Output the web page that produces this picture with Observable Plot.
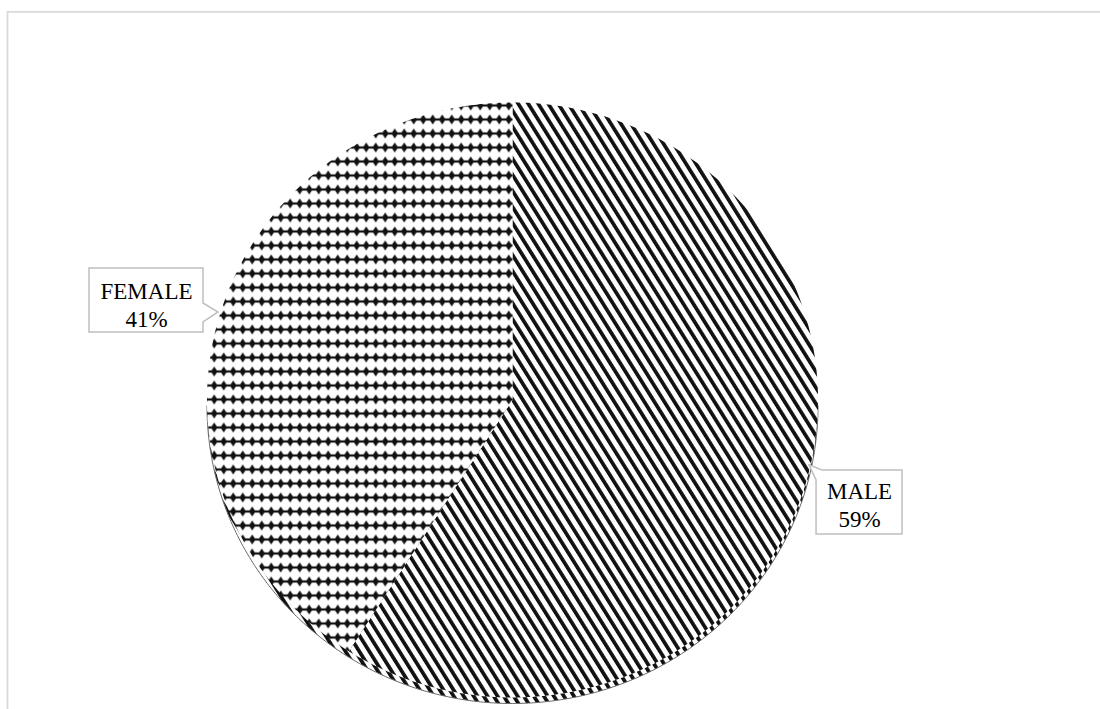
<!DOCTYPE html>
<html><head><meta charset="utf-8">
<script src="https://cdn.jsdelivr.net/npm/d3@7"></script>
<script src="https://cdn.jsdelivr.net/npm/@observablehq/plot@0.6"></script>
<style>body{margin:0;background:#fff} #chart svg{display:block}</style>
</head><body><div id="chart"></div>
<script>
// ---- data ----
const categories = ["MALE", "FEMALE"];
const shares = [59, 41];
const shareLabels = ["59%", "41%"];

// ---- layout (not data) ----
const labelPos = [
  {name: "MALE", x: 1.136, y: -0.351},
  {name: "FEMALE", x: -1.198, y: 0.3227}
];

const pie = d3.pie().sort(null).value(d => d)(shares);
const arcPts = [];
pie.forEach((p, i) => {
  const name = categories[i];
  arcPts.push({name, x: 0, y: 0});
  const n = 300;
  for (let k = 0; k <= n; k++) {
    const a = p.startAngle + (p.endAngle - p.startAngle) * k / n;
    arcPts.push({name, x: Math.sin(a), y: Math.cos(a)});
  }
  arcPts.push({name, x: 0, y: 0});
});
// lower rim used for the thin 3D side
const rimPts = [];
for (let k = 0; k <= 300; k++) {
  const a = Math.PI / 2 + Math.PI * k / 300;
  rimPts.push({x: Math.sin(a), y: Math.cos(a)});
}
const fillOf = {MALE: "url(#pMale)", FEMALE: "url(#pFemale)"};
const labels = categories.map((c, i) => ({name: c, text: c + "\n" + shareLabels[i], ...labelPos.find(l => l.name === c)}));

const defsMark = () => {
  const g = d3.create("svg:defs");
  const m = g.append("pattern").attr("id", "pMale").attr("patternUnits", "userSpaceOnUse")
    .attr("width", 8.5).attr("height", 20).attr("patternTransform", "rotate(-32)");
  m.append("rect").attr("width", 8.5).attr("height", 20).attr("fill", "#fff");
  m.append("rect").attr("x", 0).attr("width", 3.7).attr("height", 20).attr("fill", "#111");
  const f = g.append("pattern").attr("id", "pFemale").attr("patternUnits", "userSpaceOnUse")
    .attr("width", 9.5).attr("height", 14);
  f.append("rect").attr("width", 9.5).attr("height", 14).attr("fill", "#fff");
  f.append("rect").attr("x", 0).attr("y", 5.9).attr("width", 9.5).attr("height", 2.2).attr("fill", "#111");
  f.append("path").attr("d", "M4.75,2 L8.1,7 L4.75,12 L1.4,7Z").attr("fill", "#111");
  return g.node();
};

const frameMark = () => {
  const g = d3.create("svg:g");
  g.append("path").attr("d", "M7.5,709 V11.8 H1100").attr("fill", "none")
    .attr("stroke", "#d9d9d9").attr("stroke-width", 1.8);
  return g.node();
};

const calloutMark = (index, scales) => {
  const g = d3.create("svg:g").attr("fill", "#fff").attr("stroke", "#bfbfbf").attr("stroke-width", 1.5);
  const pos = Object.fromEntries(labelPos.map(l => [l.name, [scales.x(l.x), scales.y(l.y)]]));
  const [fx, fy] = pos.FEMALE;
  g.append("path").attr("d", `M${fx-57},${fy-35.5} H${fx+57} V${fy-0.5} L${fx+72},${fy+8.5} L${fx+57},${fy+18.5} V${fy+28.5} H${fx-57} Z`);
  const [mx, my] = pos.MALE;
  g.append("path").attr("d", `M${mx-37},${my-34} H${mx+43} V${my+30} H${mx-43} V${my-24} L${mx-50},${my-39} Z`);
  return g.node();
};

const chart = Plot.plot({
  width: 1100, height: 709,
  marginLeft: 206.5, marginRight: 1100 - 817.5, marginTop: 102, marginBottom: 709 - 697,
  x: {domain: [-1, 1], axis: null},
  y: {domain: [-1, 1], axis: null},
  style: {background: "#fff"},
  marks: [
    frameMark,
    defsMark,
    // 3D side: lower rim shifted down
    Plot.line(rimPts, {x: "x", y: "y", fill: "url(#pMale)", stroke: "#6a6a6a", strokeWidth: 1, dy: 6, curve: "linear"}),
    ...categories.map(c => Plot.line(arcPts.filter(d => d.name === c), {x: "x", y: "y", fill: fillOf[c], stroke: "none", curve: "linear"})),
    calloutMark,
    Plot.text(labels, {x: "x", y: "y", text: "text", fontSize: 23, fontFamily: "Liberation Serif", fill: "#000", lineHeight: 1.2, textAnchor: "middle"})
  ]
});
document.getElementById("chart").appendChild(chart);
</script>
</body></html>
